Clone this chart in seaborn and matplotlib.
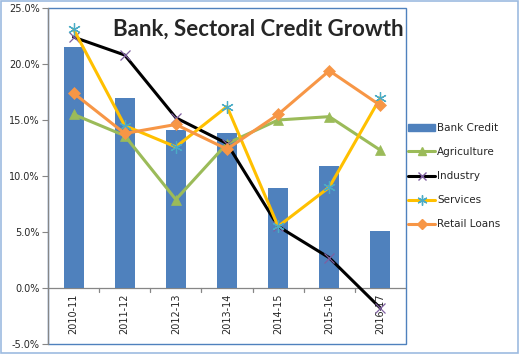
import numpy as np
import pandas as pd
import seaborn as sns
import matplotlib.pyplot as plt
from matplotlib.patches import Rectangle
from matplotlib.lines import Line2D
from matplotlib.ticker import FuncFormatter

sns.set_theme(style="white")
plt.rcParams['font.family'] = ['DejaVu Sans']

# ---------------------------------
# Data (growth, %)
# ---------------------------------
years = ['2010-11', '2011-12', '2012-13', '2013-14', '2014-15', '2015-16', '2016-17']
bank_credit = [21.5, 17.0, 14.1, 13.8, 8.9, 10.9, 5.1]
agriculture = [15.5, 13.6, 7.9, 12.9, 15.0, 15.3, 12.3]
industry = [22.4, 20.8, 15.2, 12.9, 5.5, 2.7, -1.8]
services = [23.1, 14.5, 12.6, 16.2, 5.5, 9.0, 17.0]
retail_loans = [17.4, 13.8, 14.6, 12.4, 15.5, 19.4, 16.3]

df = pd.DataFrame({'year': years, 'pos': np.arange(len(years)),
                   'Bank Credit': bank_credit, 'Agriculture': agriculture,
                   'Industry': industry, 'Services': services,
                   'Retail Loans': retail_loans})

# ---------------------------------
# Figure
# ---------------------------------
fig = plt.figure(figsize=(5.19, 3.54), dpi=100)
ax = fig.add_axes([48 / 519, 1 - 344 / 354, 358 / 519, 336 / 354])

# Bars
sns.barplot(data=df, x='pos', y='Bank Credit', color='#4f81bd', width=0.39,
            saturation=1, linewidth=0, ax=ax, zorder=2, native_scale=True)

# Lines
series = [
    ('Agriculture', '#9bbb59', '^', '#9bbb59', 7),
    ('Industry', '#000000', 'x', '#7f5fa0', 7),
    ('Services', '#ffc000', (6, 2, 0), '#4bacc6', 9),
    ('Retail Loans', '#f79646', 'D', '#f79646', 6),
]
for name, col, mk, mcol, ms in series:
    sns.lineplot(data=df, x='pos', y=name, color=col, lw=2.2, marker=mk,
                 markersize=ms, markeredgecolor=mcol, markerfacecolor=mcol,
                 markeredgewidth=0.9 if mk in ('x', (6, 2, 0)) else 0.5,
                 ax=ax, zorder=3, legend=False)

# Axes styling
ax.set_xlim(-0.5, len(years) - 0.5)
ax.set_ylim(-5, 25)
ax.set_yticks(np.arange(-5, 26, 5))
ax.yaxis.set_major_formatter(FuncFormatter(lambda v, p: f'{v:.1f}%'))
ax.tick_params(axis='y', labelsize=7, length=4, width=0.8, color='#868686',
               direction='out', left=True, pad=2)
ax.set_xlabel('')
ax.set_ylabel('')

for s in ['top', 'right', 'bottom']:
    ax.spines[s].set_visible(False)
ax.spines['left'].set_color('#868686')
ax.spines['left'].set_linewidth(0.9)

# x axis line at zero with tick marks between categories
ax.axhline(0, color='#868686', lw=0.9, zorder=1)
ax.set_xticks([])
for b in np.arange(0.5, len(years) - 0.5, 1):
    ax.plot([b, b], [0, -0.35], color='#868686', lw=0.9, clip_on=False)
for i, yr in enumerate(years):
    ax.annotate(yr, (i, 0), xytext=(0, -4), textcoords='offset points',
                rotation=90, ha='center', va='top', fontsize=7, zorder=1)

# Plot area border (blue)
ax.add_patch(Rectangle((0, 0), 1, 1, transform=ax.transAxes, fill=False,
                       edgecolor='#4f81bd', lw=1.0, zorder=0.5, clip_on=False))

# Title
ax.text(0.588, 0.968, 'Bank, Sectoral Credit Growth', transform=ax.transAxes,
        ha='center', va='top', fontsize=16, fontweight='bold',
        family=['Lato', 'DejaVu Sans'])

# Legend
handles = [Rectangle((0, 0), 1, 1, color='#4f81bd')]
for name, col, mk, mcol, ms in series:
    handles.append(Line2D([0], [0], color=col, lw=2.2, marker=mk,
                          markersize=ms * 0.8, markeredgecolor=mcol,
                          markerfacecolor=mcol))
labels = ['Bank Credit'] + [s[0] for s in series]
fig.legend(handles, labels, loc='center left', frameon=False, fontsize=7.5,
           bbox_to_anchor=(404 / 519, 1 - 176 / 354), handlelength=2.6,
           handleheight=0.6, labelspacing=1.35, handletextpad=0.2,
           borderaxespad=0)

# Outer chart border
fig.add_artist(Rectangle((0.001, 0.002), 0.997, 0.996, transform=fig.transFigure,
                         fill=False, edgecolor='#9dbbe0', lw=1.2))

fig.savefig('out.png', dpi=100)
